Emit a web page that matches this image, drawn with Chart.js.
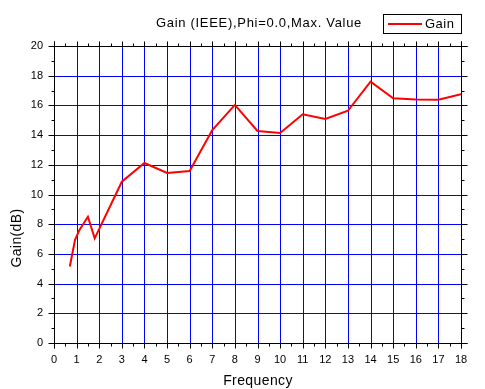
<!DOCTYPE html>
<html>
<head>
<meta charset="utf-8">
<script src="https://cdn.jsdelivr.net/npm/chart.js@4"></script>
<style>
  body { margin: 0; background: #fff; }
  canvas { display: block; }
</style>
</head>
<body>
<canvas id="chartCanvas" width="485" height="389"></canvas>
<script>
// values
const frequency = [0.7, 0.93, 1.12, 1.5, 1.8, 3, 4, 5, 6, 7, 8, 9, 10, 11, 12, 13, 14, 15, 16, 17, 18];
const gain = [5.15, 6.95, 7.6, 8.5, 7.05, 10.86, 12.12, 11.45, 11.58, 14.34, 16.03, 14.28, 14.14, 15.4, 15.08, 15.64, 17.6, 16.48, 16.4, 16.38, 16.75];
const xTicks = { min: 0, max: 18, step: 1 };
const yTicks = { min: 0, max: 20, step: 2 };

const FONT = '"Liberation Sans", Arial, sans-serif';

// crisp blue grid on whole pixels, under the curve
const blueGrid = {
    id: 'blueGrid',
    beforeDatasetsDraw(chart) {
        const ctx = chart.ctx;
        const a = chart.chartArea;
        const xs = chart.scales.x, ys = chart.scales.y;
        ctx.save();
        ctx.strokeStyle = '#0000ff';
        ctx.lineWidth = 1;
        ctx.beginPath();
        for (let v = xTicks.min; v <= xTicks.max; v += xTicks.step) {
            const px = Math.round(xs.getPixelForValue(v)) + 0.5;
            ctx.moveTo(px, a.top); ctx.lineTo(px, a.bottom);
        }
        for (let v = yTicks.min; v <= yTicks.max; v += yTicks.step) {
            const py = Math.round(ys.getPixelForValue(v)) + 0.5;
            ctx.moveTo(a.left, py); ctx.lineTo(a.right, py);
        }
        ctx.stroke();
        ctx.restore();
    }
};

// frame, outward tick marks, titles and legend like the Origin plot
const decorations = {
    id: 'decorations',
    afterDraw(chart) {
        const ctx = chart.ctx;
        const a = chart.chartArea;
        const xs = chart.scales.x, ys = chart.scales.y;
        const L = Math.round(a.left) + 0.5, R = Math.round(a.right) + 0.5;
        const T = Math.round(a.top) + 0.5, B = Math.round(a.bottom) + 0.5;
        ctx.save();
        ctx.strokeStyle = '#000';
        ctx.lineWidth = 1;
        ctx.beginPath();
        ctx.moveTo(L - 5, B); ctx.lineTo(R + 6, B);
        ctx.moveTo(L - 5, T); ctx.lineTo(R + 6, T);
        ctx.moveTo(L, T - 5); ctx.lineTo(L, B + 5);
        ctx.moveTo(R, T - 5); ctx.lineTo(R, B + 5);

        for (let v = xTicks.min; v <= xTicks.max; v += 0.5) {
            const px = Math.round(xs.getPixelForValue(v)) + 0.5;
            const len = v % 1 === 0 ? 5 : 3;
            ctx.moveTo(px, B); ctx.lineTo(px, B + len);
            ctx.moveTo(px, T); ctx.lineTo(px, T - len);
        }
        for (let v = yTicks.min; v <= yTicks.max; v += 1) {
            const py = Math.round(ys.getPixelForValue(v)) + 0.5;
            const len = v % 2 === 0 ? 6 : 3;
            ctx.moveTo(L, py); ctx.lineTo(L - len, py);
            ctx.moveTo(R, py); ctx.lineTo(R + len, py);
        }
        ctx.stroke();

        ctx.fillStyle = '#000';
        ctx.textAlign = 'center';
        ctx.textBaseline = 'middle';
        ctx.font = '13px ' + FONT;
        ctx.letterSpacing = '0.7px';
        ctx.fillText('Gain (IEEE),Phi=0.0,Max. Value', 259, 23);
        ctx.font = '14px ' + FONT;
        ctx.letterSpacing = '0.4px';
        ctx.fillText('Frequency', 258, 381);
        ctx.save();
        ctx.translate(17, 238);
        ctx.rotate(-Math.PI / 2);
        ctx.fillText('Gain(dB)', 0, 0);
        ctx.restore();

        // legend box
        ctx.strokeRect(383.5, 14.5, 78, 19);
        ctx.strokeStyle = '#ff0000';
        ctx.lineWidth = 2;
        ctx.beginPath();
        ctx.moveTo(388, 24); ctx.lineTo(422, 24);
        ctx.stroke();
        ctx.font = '13px ' + FONT;
        ctx.letterSpacing = '0.5px';
        ctx.textAlign = 'left';
        ctx.fillText('Gain', 425, 24);
        ctx.restore();
    }
};

const ctx = document.getElementById('chartCanvas').getContext('2d');
const myChart = new Chart(ctx, {
    type: 'line',
    data: {
        datasets: [{
            label: 'Gain',
            data: frequency.map((f, i) => ({ x: f, y: gain[i] })),
            borderColor: '#ff0000',
            borderWidth: 2,
            pointRadius: 0,
            tension: 0,
            fill: false
        }]
    },
    options: {
        responsive: false,
        animation: false,
        layout: { padding: { top: 46, right: 24, left: 0, bottom: 0 } },
        plugins: {
            legend: { display: false },
            title: { display: false },
            tooltip: { enabled: false }
        },
        scales: {
            x: {
                type: 'linear',
                min: xTicks.min,
                max: xTicks.max,
                afterFit: s => { s.height = 46; },
                ticks: { stepSize: xTicks.step, color: '#000', padding: 10, font: { size: 11, family: FONT } },
                grid: { display: false, drawTicks: false },
                border: { display: false }
            },
            y: {
                min: yTicks.min,
                max: yTicks.max,
                afterFit: s => { s.width = 54; },
                ticks: { stepSize: yTicks.step, color: '#000', padding: 11, font: { size: 11, family: FONT } },
                grid: { display: false, drawTicks: false },
                border: { display: false }
            }
        }
    },
    plugins: [blueGrid, decorations]
});
</script>
</body>
</html>
